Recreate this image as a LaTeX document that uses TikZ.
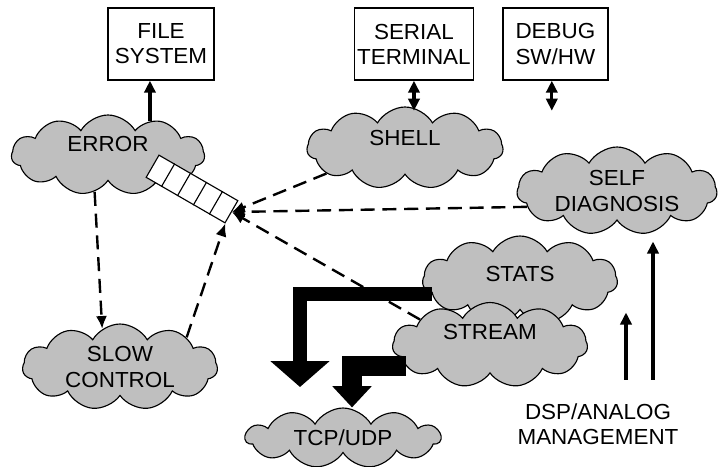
\documentclass[tikz,border=0pt]{standalone}
\usepackage{fontspec}
\setmainfont{Liberation Sans}[FakeStretch=1.03]
\usetikzlibrary{arrows.meta,positioning,shapes.symbols,calc}
\tikzset{
  >={Triangle[length=3mm, width=2.8mm]},
  box/.style={draw, line width=1pt, align=center, minimum width=2.65cm, minimum height=1.8cm, inner sep=2pt},
  cloudy/.style={cloud, cloud puffs=11, cloud puff arc=120, cloud ignores aspect, draw, line width=0.8pt, fill=black!25, align=center, inner sep=0pt},
  fifo/.style={draw, fill=white, line width=0.8pt, minimum width=2.275cm, minimum height=0.64cm, rotate=-30, inner sep=0pt},
  dashedmsg/.style={line width=1.7pt, dash pattern=on 10pt off 5.5pt, -{Latex[length=3.2mm, width=2.8mm]}},
  solidio/.style={line width=2.2pt},
  bigflow/.style={line join=miter},
}
\begin{document}
\begin{tikzpicture}[font=\fontsize{15.5}{17.8}\selectfont]
  \useasboundingbox (0,0) rectangle (17.975,11.65);

  \node[box] (fs) at (4.025,10.55) {FILE\\SYSTEM};
  \node[box, minimum width=2.9cm, right=3.475cm of fs] (serial) {SERIAL\\TERMINAL};
  \node[box, minimum width=2.625cm, right=7mm of serial] (debug) {DEBUG\\SW/HW};

  % thick data paths end here
  \coordinate (tipa) at (7.5,1.975);

  \node[cloudy, minimum width=4.825cm, minimum height=2cm, text depth=5.5mm] (error) at (2.7,7.775) {ERROR};
  \node[cloudy, minimum width=4.9cm, minimum height=2.05cm, text depth=5mm] (shell) at (10.125,7.95) {SHELL};
  \node[cloudy, minimum width=5cm, minimum height=2.2cm] (selfdiag) at (15.425,6.875) {SELF\\DIAGNOSIS};
  \node[cloudy, minimum width=4.875cm, minimum height=2.15cm] (slow) at (3,2.475) {SLOW\\CONTROL};
  \node[cloudy, minimum width=4.875cm, minimum height=2.2cm, text depth=3mm] (stats) at (13,4.65) {STATS};
  \node[cloudy, minimum width=4.875cm, minimum height=2.125cm, text depth=6.5mm] (stream) at (12.25,3.025) {STREAM};
  \node[cloudy, minimum width=4.875cm, minimum height=1.5cm] (tcp) at (8.575,0.7) {TCP/UDP};
  \node[align=center] (dsp) at (14.95,1.05) {DSP/ANALOG\\MANAGEMENT};

  \node[fifo] (queue) at (4.8,6.925) {};
  \foreach \i in {1,...,4}
    \draw[line width=0.8pt] ($(queue.north west)!\i/5!(queue.north east)$) -- ($(queue.south west)!\i/5!(queue.south east)$);

  \draw[solidio, ->] (error.39) -- (error.39 |- fs.south);
  \draw[solidio, <->] (serial.south) -- ++(0,-0.75);
  \draw[solidio, <->] ([xshift=-0.9mm]debug.south) -- ++(0,-0.75);

  \draw[dashedmsg] (shell.198) -- (queue.east);
  \draw[dashedmsg] (selfdiag.190) -- (queue.east);
  \draw[dashedmsg] (stream.160) -- (queue.east);
  \draw[dashedmsg] (slow.24) -- (queue.south east);
  \draw[dashedmsg] (error.250) -- (slow.115);

  \draw[bigflow, line width=3.3mm, -{Triangle[width=14.5mm, length=6.5mm]}] (stats.189) -| (tipa);
  \draw[bigflow, line width=5mm, -{Triangle[width=9.5mm, length=5.3mm]}] (stream.194) -| ([xshift=2.25mm]tcp.north);

  \coordinate (dspleft) at ([xshift=7mm, yshift=4.75mm]dsp.north);
  \coordinate (dspright) at ([xshift=13.75mm, yshift=4.75mm]dsp.north);
  \draw[solidio, ->] (dspleft) -- ++(0,1.675);
  \draw[solidio, ->] (dspright) -- ++(0,3.45);
\end{tikzpicture}
\end{document}
